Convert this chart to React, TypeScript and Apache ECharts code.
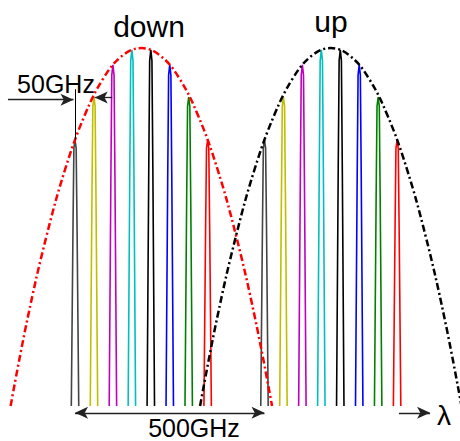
import React, { useEffect, useRef } from "react";
import * as echarts from "echarts";

// Channel centre frequencies (GHz, relative to first downstream channel)
const downChannels = [0, 50, 100, 150, 200, 250, 300, 350];
const upChannels = [500, 550, 600, 650, 700, 750, 800, 850];
// Relative peak power of each channel (under the gain envelope)
const channelPower = [0.743, 0.863, 0.953, 0.995, 0.995, 0.953, 0.863, 0.743];
const channelColors = ["#444444", "#bfbf00", "#bf00bf", "#00bfbf", "#000000", "#0000ff", "#008000", "#ff0000"];

// Narrow spike line-shape: frequency offset (GHz) and fraction of peak
const spikeOffsets = [-9.8, -5.3, -3, 0, 3, 5.3, 9.8];
const spikeFractions = [0, 0.68, 0.97, 1, 0.97, 0.68, 0];

// Gain envelopes: offset from centre (GHz) and relative level
const downCenter = 175;
const upCenter = 675;
const envelopeOffsets = [-345, -300, -250, -200, -150, -100, -50, 0, 50, 100, 150, 200, 250, 300, 345];
const envelopeValues = [0, 0.246, 0.476, 0.665, 0.811, 0.916, 0.979, 1, 0.979, 0.916, 0.811, 0.665, 0.476, 0.246, 0];

const FONT = "'Liberation Sans', Arial, sans-serif";

export default function App() {
  const ref = useRef<HTMLDivElement>(null);

  useEffect(() => {
    if (!ref.current) return;
    const chart = echarts.init(ref.current, undefined, { renderer: "svg" });

    const spikeSeries: any[] = [];
    const addGroup = (centers: number[]) => {
      centers.forEach((c, i) => {
        spikeSeries.push({
          type: "line",
          silent: true,
          symbol: "none",
          z: 2,
          lineStyle: { color: channelColors[i], width: 1.6 },
          data: spikeOffsets.map((o, k) => [c + o, channelPower[i] * spikeFractions[k]]),
        });
      });
    };
    addGroup(downChannels);
    addGroup(upChannels);

    const envelope = (center: number, color: string, extra: any = {}) => ({
      type: "line",
      silent: true,
      symbol: "none",
      smooth: 0.4,
      z: 3,
      lineStyle: { color, width: 2.5, type: [7, 3, 2, 3] },
      data: envelopeOffsets.map((o, k) => [center + o, envelopeValues[k]]),
      ...extra,
    });

    const arrowStyle = { color: "#222222", width: 1.3, type: "solid" };
    const yArrow = -0.019;
    const markLine = {
      silent: true,
      animation: false,
      symbolSize: [9, 13],
      label: { show: false },
      emphasis: { disabled: true },
      lineStyle: arrowStyle,
      data: [
        [
          { coord: [downChannels[0], yArrow], symbol: "arrow" },
          { coord: [upChannels[0], yArrow], symbol: "arrow" },
        ],
        [
          { coord: [855, yArrow], symbol: "none" },
          { coord: [937, yArrow], symbol: "arrow" },
        ],
        [
          { coord: [-177, 0.856], symbol: "none" },
          { coord: [-4, 0.856], symbol: "arrow" },
        ],
        [
          { coord: [98, 0.862], symbol: "none" },
          { coord: [52, 0.862], symbol: "arrow" },
        ],
        [
          { coord: [downChannels[0], channelPower[0]], symbol: "none", lineStyle: { color: "#000", width: 1 } },
          { coord: [downChannels[0], 0.885], symbol: "none" },
        ],
      ],
    };

    chart.setOption({
      animation: false,
      grid: { left: 0, right: 0, top: 0, bottom: 0, containLabel: false },
      xAxis: { type: "value", min: -198, max: 1016, show: false },
      yAxis: { type: "value", min: -0.0978, max: 1.1344, show: false },
      series: [
        ...spikeSeries,
        envelope(downCenter, "#ff0000", { markLine }),
        envelope(upCenter, "#000000"),
      ],
      graphic: [
        { type: "text", x: 149, y: 26, style: { text: "down", font: `30px ${FONT}`, fill: "#000", textAlign: "center", textVerticalAlign: "middle" } },
        { type: "text", x: 331, y: 21, style: { text: "up", font: `30px ${FONT}`, fill: "#000", textAlign: "center", textVerticalAlign: "middle" } },
        { type: "text", x: 56, y: 84, style: { text: "50GHz", font: `25px ${FONT}`, fill: "#000", textAlign: "center", textVerticalAlign: "middle" } },
        { type: "text", x: 194, y: 428, style: { text: "500GHz", font: `25px ${FONT}`, fill: "#000", textAlign: "center", textVerticalAlign: "middle" } },
        { type: "text", x: 444, y: 415, style: { text: "λ", font: `28px ${FONT}`, fill: "#000", textAlign: "center", textVerticalAlign: "middle" } },
      ],
    });

    return () => chart.dispose();
  }, []);

  return (
    <div
      ref={ref}
      style={{ position: "fixed", left: 0, top: 0, width: 460, height: 441, background: "#fff" }}
    />
  );
}
